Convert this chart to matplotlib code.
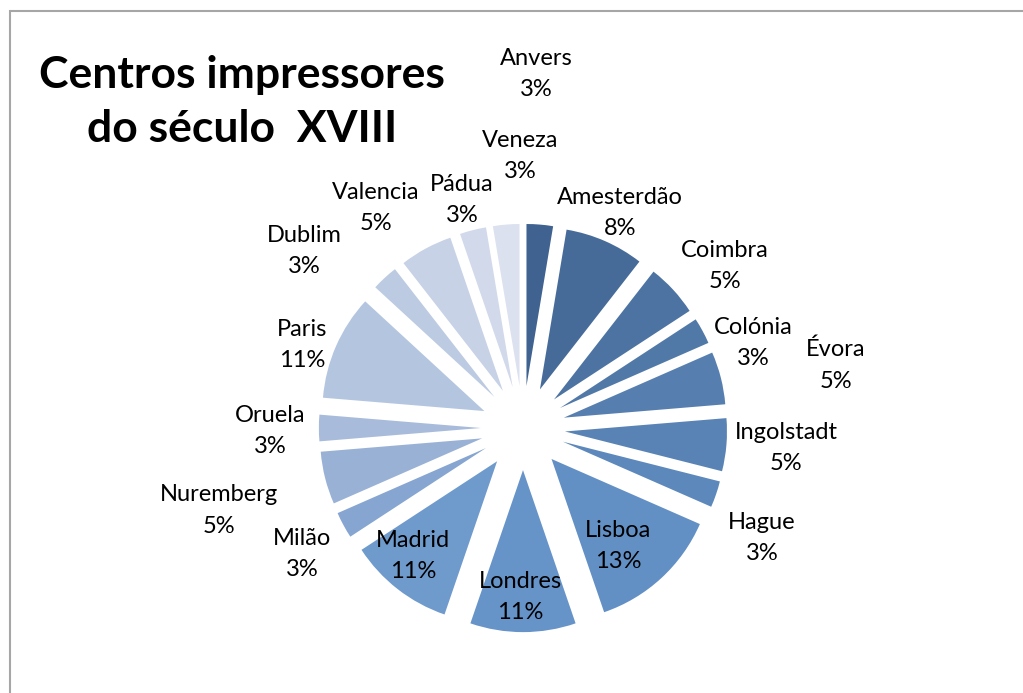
import matplotlib.pyplot as plt
import numpy as np
from matplotlib.patches import Rectangle

plt.rcParams['font.family'] = ['Lato', 'DejaVu Sans']

# data: number of printing centres (38 in total)
cities = ["Anvers", "Amesterdão", "Coimbra", "Colónia", "Évora", "Ingolstadt",
          "Hague", "Lisboa", "Londres", "Madrid", "Milão", "Nuremberg",
          "Oruela", "Paris", "Dublim", "Valencia", "Pádua", "Veneza"]
counts = [1, 3, 2, 1, 2, 2, 1, 5, 4, 4, 1, 2, 1, 4, 1, 2, 1, 1]
pct_labels = ["3%", "8%", "5%", "3%", "5%", "5%", "3%", "13%", "11%", "11%",
              "3%", "5%", "3%", "11%", "3%", "5%", "3%", "3%"]

# label placement (radius, angle in degrees), Excel "best fit" look
label_pos = [(2.205, 87.8), (1.473, 66.0), (1.61, 39.2), (1.52, 20.9),
             (1.975, 11.9), (1.627, -3.7), (1.617, -24.1), (0.921, -50.4),
             (1.025, -91.0), (1.028, -131.3), (1.561, -150.9), (1.939, -165.4),
             (1.562, 180.0), (1.464, 158.7), (1.75, 140.6), (1.649, 123.4),
             (1.475, 104.8), (1.698, 90.6)]

# monochrome blue palette, dark -> light
colors = ["#3F6290", "#466B98", "#4C73A1", "#5179A8", "#567FAF", "#5983B5",
          "#5D88BB", "#6290C5", "#6694C9", "#6F9ACC", "#86A5D1", "#9AB1D6",
          "#A8BBDB", "#B4C5E0", "#BCCAE2", "#C7D2E6", "#D1D9EA", "#DBE1EE"]

W, H = 1023, 693
fig = plt.figure(figsize=(W / 100, H / 100), dpi=100)

# chart frame (only the left and top edges fall inside the image)
fig.patches.append(Rectangle((10 / W, -0.1), 1.2, 1 - 11 / H + 0.1,
                             transform=fig.transFigure, fill=False,
                             edgecolor="#A6A6A6", linewidth=1.5))

# axes centred on the pie, 162 px per data unit
cx, cy, unit = 523, 428, 162
half = 1.5 * unit
ax = fig.add_axes([(cx - half) / W, (H - cy - half) / H, 2 * half / W, 2 * half / H])

ax.pie(counts, colors=colors, startangle=90, counterclock=False,
       explode=[0.26] * len(counts), radius=1.0, wedgeprops=dict(linewidth=0))
ax.set_xlim(-1.5, 1.5)
ax.set_ylim(-1.5, 1.5)
ax.set_aspect("equal")
ax.axis("off")

for name, pct, (r, a) in zip(cities, pct_labels, label_pos):
    x = r * np.cos(np.radians(a))
    y = r * np.sin(np.radians(a)) - 0.02
    ax.text(x, y, name + "\n" + pct, ha="center", va="center", fontsize=17,
            linespacing=1.6, color="black", clip_on=False)

fig.text(242 / W, 1 - 102 / H, "Centros impressores\ndo século  XVIII",
         ha="center", va="center", fontsize=32, fontweight="bold",
         linespacing=1.4)

fig.savefig("out.png", dpi=100)
